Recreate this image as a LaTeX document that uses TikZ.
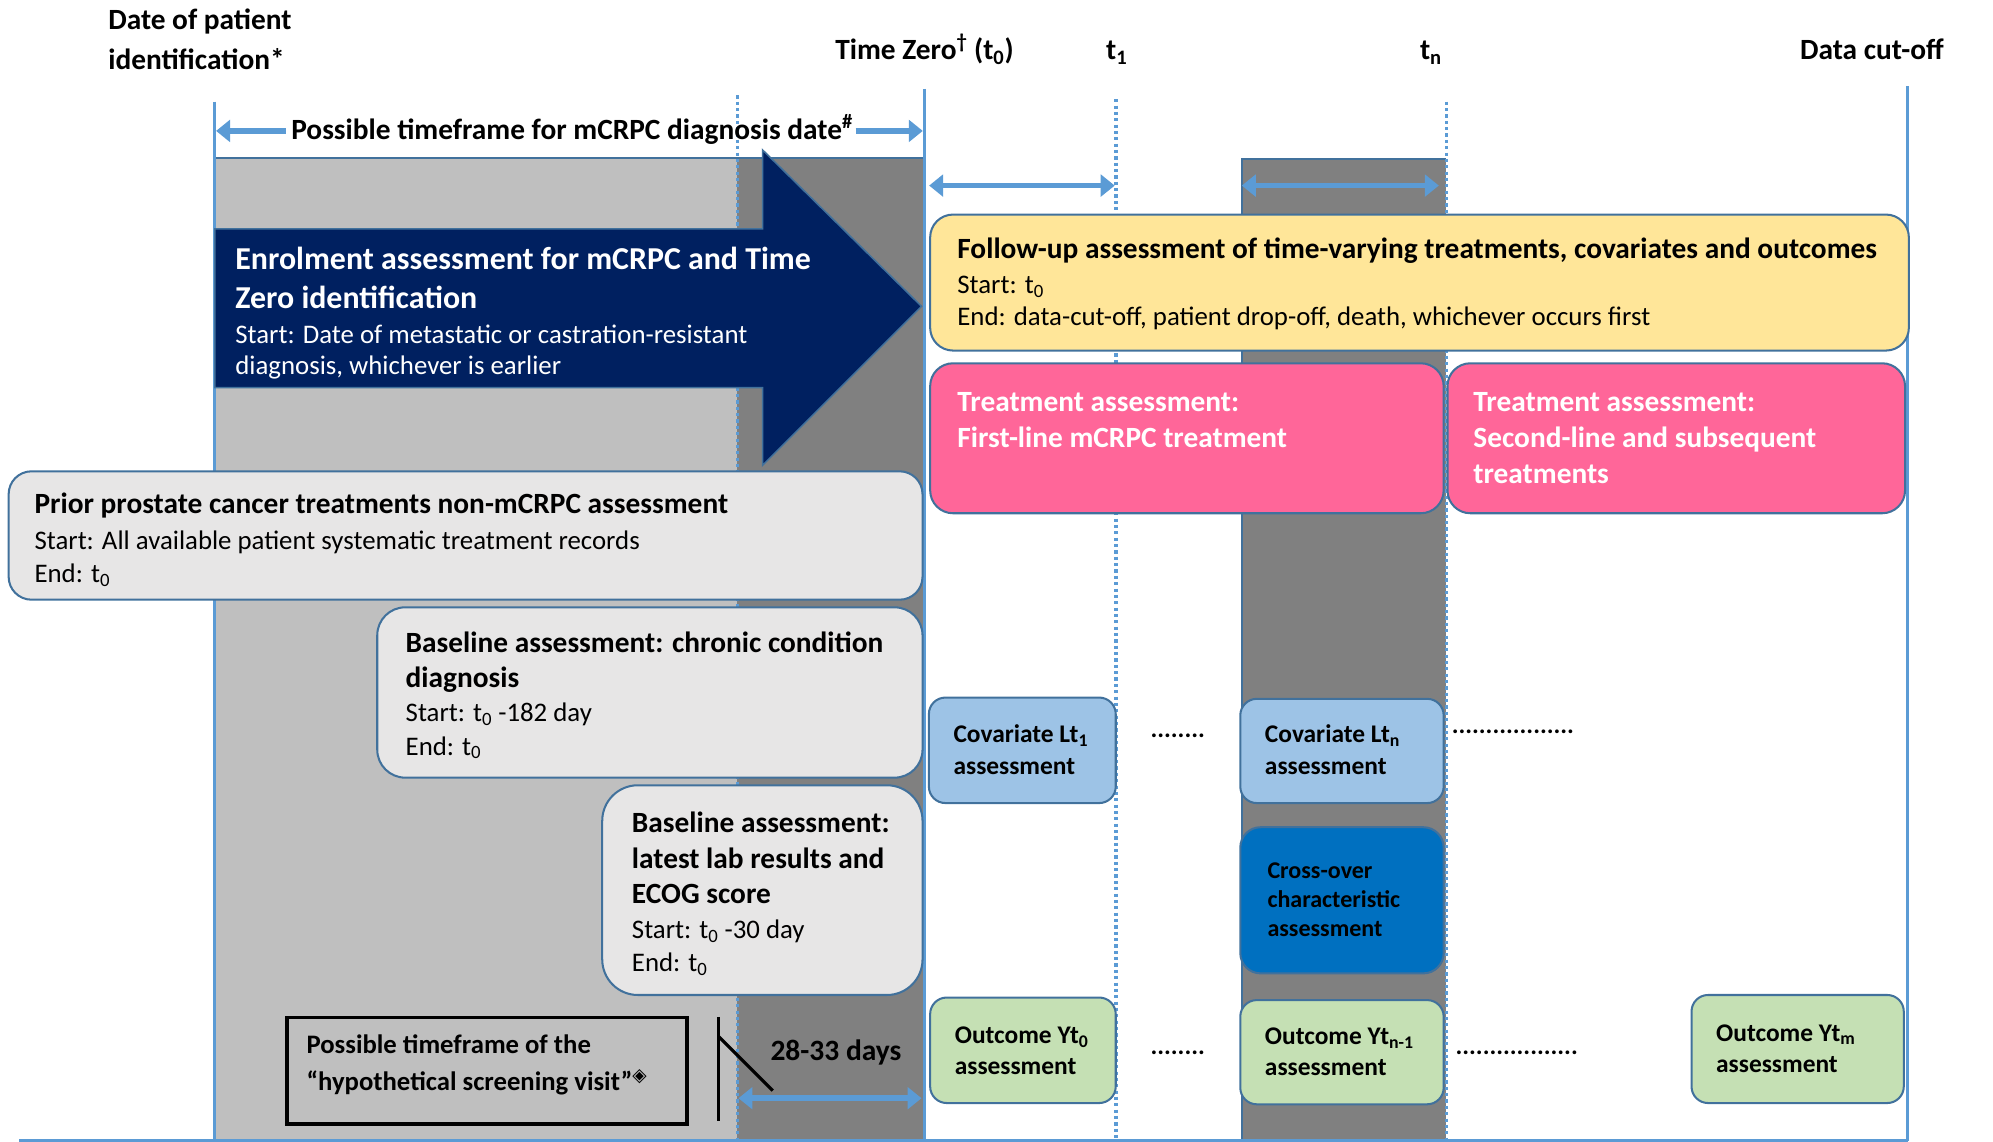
\documentclass[tikz,border=0pt]{standalone}
\usepackage{fontspec}
\setmainfont{Carlito}
\newfontfamily\symfont{DejaVu Sans}
\usetikzlibrary{arrows.meta}

\definecolor{lgrey}{HTML}{BFBFBF}
\definecolor{dgrey}{HTML}{808080}
\definecolor{navy}{HTML}{002060}
\definecolor{yel}{HTML}{FFE699}
\definecolor{pink}{HTML}{FF6699}
\definecolor{pale}{HTML}{E7E6E6}
\definecolor{cova}{HTML}{9DC3E6}
\definecolor{cross}{HTML}{0070C0}
\definecolor{outc}{HTML}{C5E0B4}
\definecolor{bordc}{HTML}{41719C}
\definecolor{lineblue}{HTML}{5B9BD5}

\tikzset{
  lbl/.style={font=\fontsize{23.1}{27}\selectfont\bfseries, anchor=base west, inner sep=0pt},
  big/.style={font=\fontsize{25.1}{30}\selectfont\bfseries, anchor=base west, inner sep=0pt},
  ttl/.style={font=\fontsize{23.1}{27}\selectfont\bfseries, anchor=base west, inner sep=0pt},
  bod/.style={font=\fontsize{21.1}{25}\selectfont, anchor=base west, inner sep=0pt},
  sml/.style={font=\fontsize{20}{24}\selectfont\bfseries, anchor=base west, inner sep=0pt},
  xsml/.style={font=\fontsize{18.9}{22}\selectfont\bfseries, anchor=base west, inner sep=0pt},
  box/.style={draw=bordc, line width=1.6pt, rounded corners=#1, inner sep=0pt, anchor=north west},
  box/.default=16pt,
  solidline/.style={draw=lineblue, line width=2.3pt},
  dotline/.style={draw=lineblue, line width=2.5pt, dash pattern=on 2.5pt off 2.5pt},
  span/.style={draw=lineblue, line width=4.5pt, {Triangle[length=11pt,width=17pt]}-{Triangle[length=11pt,width=17pt]}},
  half/.style={draw=lineblue, line width=4.5pt, -{Triangle[length=11pt,width=17pt]}}
}

\begin{document}
\begin{tikzpicture}[x=1pt,y=-1pt]
\useasboundingbox (0,0) rectangle (1568,898);

% shaded periods
\fill[lgrey] (169,124) rectangle (580,898);
\fill[dgrey] (580,124) rectangle (727,898);
\draw[bordc, line width=1.5pt] (169,124) -- (727,124);
\fill[dgrey] (977,125) rectangle (1138,898);
\draw[bordc, line width=1.5pt] (977,898) -- (977,125) -- (1138,125);

% timeline markers
\coordinate (idTop) at (169,80);   \coordinate (idBot) at (169,898);
\coordinate (scTop) at (580,75);   \coordinate (scBot) at (580,898);
\coordinate (zTop) at (727,70);    \coordinate (zBot) at (727,898);
\coordinate (oneTop) at (878,78);  \coordinate (oneBot) at (878,898);
\coordinate (nTop) at (1138,80);   \coordinate (nBot) at (1138,898);
\coordinate (cutTop) at (1501,68); \coordinate (cutBot) at (1501,898);
\coordinate (baseL) at (15,897);   \coordinate (baseR) at (1501,897);
\draw[solidline] (idTop) -- (idBot);
\draw[solidline] (zTop) -- (zBot);
\draw[solidline] (cutTop) -- (cutBot);
\draw[solidline] (baseL) -- (baseR);
\draw[dotline] (scTop) -- (scBot);
\draw[dotline] (oneTop) -- (oneBot);
\draw[dotline] (nTop) -- (nBot);

% enrolment block arrow
\draw[bordc, line width=1.2pt, fill=navy]
  (169,180) -- (600,180) -- (600,118) -- (725,241) -- (600,366) -- (600,305) -- (169,305) -- cycle;
\node[big, white] (enr1) at (185,212) {Enrolment assessment for mCRPC and Time};
\node[big, white] (enr2) at (185,243) {Zero identification};
\node[bod, white] (enr3) at (185,270) {Start: Date of metastatic or castration-resistant};
\node[bod, white] (enr4) at (185,295) {diagnosis, whichever is earlier};

% top labels
\node[lbl] (idl1) at (85,23) {Date of patient};
\node[lbl] (idl2) at (85,55) {identification*};
\node[lbl] (tzl) at (657,47) {Time Zero\textsuperscript{†} (t\textsubscript{0})};
\node[lbl] (t1l) at (870,47) {t\textsubscript{1}};
\node[lbl] (tnl) at (1117,47) {t\textsubscript{n}};
\node[lbl] (cutl) at (1416,47) {Data cut-off};

% diagnosis timeframe
\node[ttl] (diag) at (229,110) {Possible timeframe for mCRPC diagnosis date\textsuperscript{\#}};
\coordinate (diagL) at (170,103);
\coordinate (diagR) at (726,103);
\draw[half] (diag.west |- diagL) ++(-4,0) -- (diagL);
\draw[half] (diag.east |- diagR) ++(2,0) -- (diagR);

% follow-up intervals
\coordinate (iv1a) at (731,146); \coordinate (iv1b) at (877,146);
\coordinate (iv2a) at (977,146); \coordinate (iv2b) at (1132,146);
\draw[span] (iv1a) -- (iv1b);
\draw[span] (iv2a) -- (iv2b);

% follow-up box
\node[box=18pt, fill=yel, minimum width=770pt, minimum height=107pt] (fup) at (731,168) {};
\node[ttl] (fup1) at (753,203) {Follow-up assessment of time-varying treatments, covariates and outcomes};
\node[bod] (fup2) at (753,231) {Start: t\textsubscript{0}};
\node[bod] (fup3) at (753,256) {End: data-cut-off, patient drop-off, death, whichever occurs first};

% treatment boxes
\node[box=18pt, fill=pink, minimum width=404pt, minimum height=118pt] (tr1) at (731,285) {};
\node[ttl, white] (tr1a) at (753,324) {Treatment assessment:};
\node[ttl, white] (tr1b) at (753,352) {First-line mCRPC treatment};
\node[box=18pt, fill=pink, minimum width=360pt, minimum height=118pt] (tr2) at (1138,285) {};
\node[ttl, white] (tr2a) at (1159,324) {Treatment assessment:};
\node[ttl, white] (tr2b) at (1159,352) {Second-line and subsequent};
\node[ttl, white] (tr2c) at (1159,380) {treatments};

% prior treatments box
\node[box=18pt, fill=pale, minimum width=719pt, minimum height=101pt] (pri) at (6,370) {};
\node[ttl] (pri1) at (27,404) {Prior prostate cancer treatments non-mCRPC assessment};
\node[bod] (pri2) at (27,432) {Start: All available patient systematic treatment records};
\node[bod] (pri3) at (27,458) {End: t\textsubscript{0}};

% chronic condition box
\node[box=22pt, fill=pale, minimum width=429pt, minimum height=134pt] (chr) at (296,477) {};
\node[ttl] (chr1) at (319,513) {Baseline assessment: chronic condition};
\node[ttl] (chr2) at (319,541) {diagnosis};
\node[bod] (chr3) at (319,568) {Start: t\textsubscript{0} -182 day};
\node[bod] (chr4) at (319,594) {End: t\textsubscript{0}};

% lab results box
\node[box=28pt, fill=pale, minimum width=252pt, minimum height=165pt] (lab) at (473,617) {};
\node[ttl] (lab1) at (497,655) {Baseline assessment:};
\node[ttl] (lab2) at (497,683) {latest lab results and};
\node[ttl] (lab3) at (497,711) {ECOG score};
\node[bod] (lab4) at (497,738) {Start: t\textsubscript{0} -30 day};
\node[bod] (lab5) at (497,764) {End: t\textsubscript{0}};

% covariate boxes
\node[box=13pt, fill=cova, minimum width=147pt, minimum height=83pt] (cv1) at (730,548) {};
\node[sml] (cv1a) at (750,584) {Covariate Lt\textsubscript{1}};
\node[sml] (cv1b) at (750,609) {assessment};
\node[box=13pt, fill=cova, minimum width=160pt, minimum height=82pt] (cvn) at (975,549) {};
\node[sml] (cvna) at (995,584) {Covariate Lt\textsubscript{n}};
\node[sml] (cvnb) at (995,609) {assessment};
\node[sml] (dots1) at (905,580) {........};
\node[sml] (dots2) at (1142,577) {..................};

% cross-over box
\node[box=16pt, fill=cross, minimum width=160pt, minimum height=115pt] (xo) at (975,650) {};
\node[xsml] (xo1) at (997,691) {Cross-over};
\node[xsml] (xo2) at (997,714) {characteristic};
\node[xsml] (xo3) at (997,737) {assessment};

% outcome boxes
\node[box=13pt, fill=outc, minimum width=146pt, minimum height=83pt] (oc0) at (731,784) {};
\node[sml] (oc0a) at (751,821) {Outcome Yt\textsubscript{0}};
\node[sml] (oc0b) at (751,845) {assessment};
\node[box=13pt, fill=outc, minimum width=160pt, minimum height=82pt] (ocn) at (975,786) {};
\node[sml] (ocna) at (995,822) {Outcome Yt\textsubscript{n-1}};
\node[sml] (ocnb) at (995,846) {assessment};
\node[box=13pt, fill=outc, minimum width=167pt, minimum height=85pt] (ocm) at (1330,782) {};
\node[sml] (ocma) at (1350,819) {Outcome Yt\textsubscript{m}};
\node[sml] (ocmb) at (1350,844) {assessment};
\node[sml] (dots3) at (905,830) {........};
\node[sml] (dots4) at (1145,830) {..................};

% screening visit
\node[draw=black, line width=3pt, minimum width=315pt, minimum height=84pt, inner sep=0pt, anchor=north west] (scr) at (224,799) {};
\node[font=\fontsize{21}{25}\selectfont\bfseries, anchor=base west, inner sep=0pt] (scr1) at (241,829) {Possible timeframe of the};
\node[font=\fontsize{21}{25}\selectfont\bfseries, anchor=base west, inner sep=0pt] (scr2) at (241,858) {“hypothetical screening visit”\textsuperscript{\symfont ◈}};
\coordinate (barT) at (565,800); \coordinate (barB) at (565,882);
\coordinate (slA) at (565,815);  \coordinate (slB) at (608,858);
\draw[black, line width=2.5pt] (barT) -- (barB);
\draw[black, line width=2.5pt] (slA) -- (slB);
\node[font=\fontsize{23.2}{27}\selectfont\bfseries, anchor=base west, inner sep=0pt] (days) at (606,834) {28-33 days};
\coordinate (dA) at (581,864); \coordinate (dB) at (725,864);
\draw[span] (dA) -- (dB);
\end{tikzpicture}
\end{document}
